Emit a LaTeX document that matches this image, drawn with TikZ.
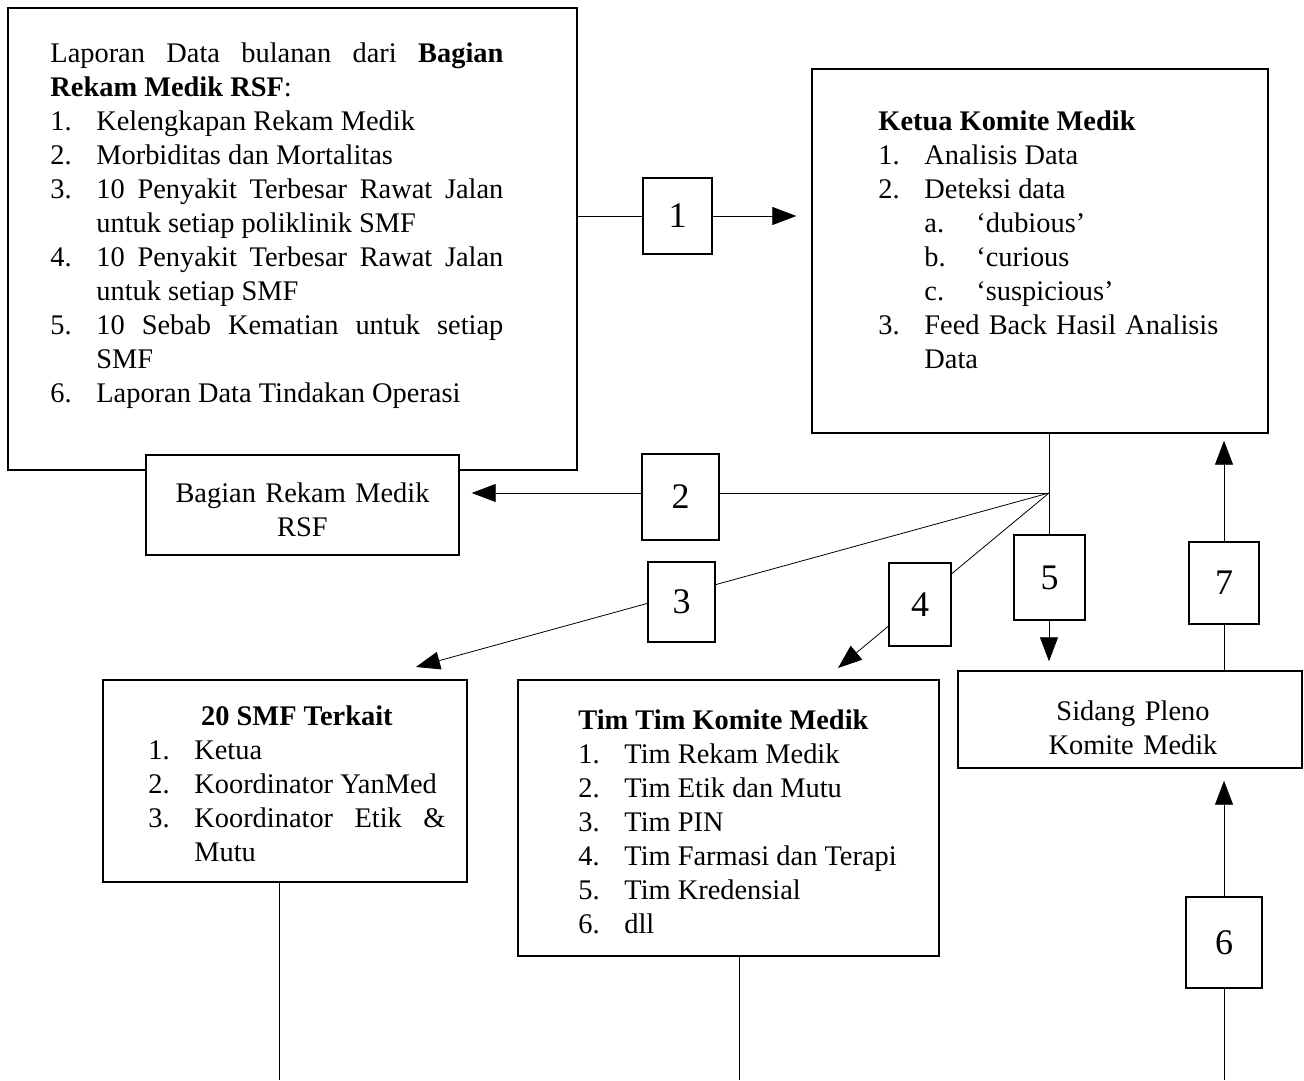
\documentclass[tikz,border=0pt]{standalone}
\usepackage{fontspec}
\setmainfont{Liberation Serif}
\usetikzlibrary{arrows.meta,fit,backgrounds}
\hyphenpenalty=10000 \exhyphenpenalty=10000 \tolerance=9999
\newcommand{\itm}[2]{\par\hangindent=23pt\hangafter=1\noindent\hbox to 23pt{#1\hfil}#2}
\newcommand{\subitm}[2]{\par\hangindent=49pt\hangafter=1\noindent\hspace*{23pt}\hbox to 26pt{#1\hfil}#2}
\tikzset{
  box/.style={draw, line width=0.7pt, fill=white, inner sep=0pt},
  numbox/.style={box, label={[font=\fontsize{18}{20}\selectfont, inner sep=0pt]center:#1}},
  txt/.style={inner sep=0pt, anchor=base west, align=justify, font=\fontsize{14.2}{17}\selectfont},
  link/.style={line width=0.5pt}
}
\begin{document}
\begin{tikzpicture}[x=0.5pt, y=-0.5pt, >={Triangle[length=12pt,width=9pt]}]
	\useasboundingbox (0,0) rectangle (1304,1080);
	% main boxes
	\node[box, fit={(8,8)(577,470)}] (A) {};
	\node[box, fit={(146,455)(459,555)}] (B) {};
	\node[box, fit={(812,69)(1268,433)}] (C) {};
	\node[box, fit={(103,680)(467,882)}] (D) {};
	\node[box, fit={(518,680)(939,956)}] (E) {};
	\node[box, fit={(958,671)(1302,768)}] (S) {};
	% numbered boxes
	\node[numbox=1, fit={(643,178)(712,254)}] (n1) {};
	\node[numbox=2, fit={(642,454)(719,540)}] (n2) {};
	\node[numbox=3, fit={(648,562)(715,642)}] (n3) {};
	\node[numbox=4, fit={(889,563)(951,646)}] (n4) {};
	\node[numbox=5, fit={(1014,535)(1085,620)}] (n5) {};
	\node[numbox=6, fit={(1186,897)(1262,988)}] (n6) {};
	\node[numbox=7, fit={(1189,542)(1259,624)}] (n7) {};
	\coordinate (J) at (1049,493);
	\coordinate (T3) at (416,667);
	\coordinate (T4) at (838,668);
	\coordinate (bot) at (0,1080);
	% texts
	\node[txt, text width=226.5pt] (tA) at (50,63) {Laporan Data bulanan dari \textbf{Bagian Rekam Medik RSF}:
		\itm{1.}{Kelengkapan Rekam Medik}
		\itm{2.}{Morbiditas dan Mortalitas}
		\itm{3.}{10 Penyakit Terbesar Rawat Jalan untuk setiap poliklinik SMF}
		\itm{4.}{10 Penyakit Terbesar Rawat Jalan untuk setiap SMF}
		\itm{5.}{10 Sebab Kematian untuk setiap SMF}
		\itm{6.}{Laporan Data Tindakan Operasi}\par};
	\node[txt, anchor=base, align=center, text width=150pt] (tB) at (302.5,502) {Bagian Rekam Medik\\RSF};
	\node[txt, text width=170pt] (tC) at (878,131) {\textbf{Ketua Komite Medik}
		\itm{1.}{Analisis Data}
		\itm{2.}{Deteksi data}
		\subitm{a.}{‘dubious’}
		\subitm{b.}{‘curious}
		\subitm{c.}{‘suspicious’}
		\itm{3.}{Feed Back Hasil Analisis Data}\par};
	\node[txt, text width=148.5pt] (tD) at (148,725) {\makebox[\linewidth]{\bfseries 20 SMF Terkait}
		\itm{1.}{Ketua}
		\itm{2.}{Koordinator YanMed}
		\itm{3.}{Koordinator Etik \& Mutu}\par};
	\node[txt, text width=170pt] (tE) at (578,729) {\textbf{Tim Tim Komite Medik}
		\itm{1.}{Tim Rekam Medik}
		\itm{2.}{Tim Etik dan Mutu}
		\itm{3.}{Tim PIN}
		\itm{4.}{Tim Farmasi dan Terapi}
		\itm{5.}{Tim Kredensial}
		\itm{6.}{dll}\par};
	\node[txt, anchor=base, align=center, text width=150pt] (tS) at (1133,720) {Sidang Pleno\\Komite Medik};
	% connectors
	\begin{scope}[on background layer, link]
		\draw[->, shorten >=7.5pt] (A.east |- n1) -- (C.west |- n1);
		\draw[->, shorten >=6pt] (J) -- (B.east |- J);
		\draw[->] (J) -- (T3);
		\draw[->] (J) -- (T4);
		\draw[->, shorten >=4.5pt] (C.south -| J) -- (S.north -| J);
		\draw[->, shorten >=3.5pt] (S.north -| n7) -- (C.south -| n7);
		\draw[->, shorten >=6pt] (bot -| n6) -- (S.south -| n6);
		\draw ([xshift=-3pt]D.south) -- ([xshift=-3pt]D.south |- bot);
		\draw ([xshift=5.5pt]E.south) -- ([xshift=5.5pt]E.south |- bot);
	\end{scope}
\end{tikzpicture}
\end{document}
